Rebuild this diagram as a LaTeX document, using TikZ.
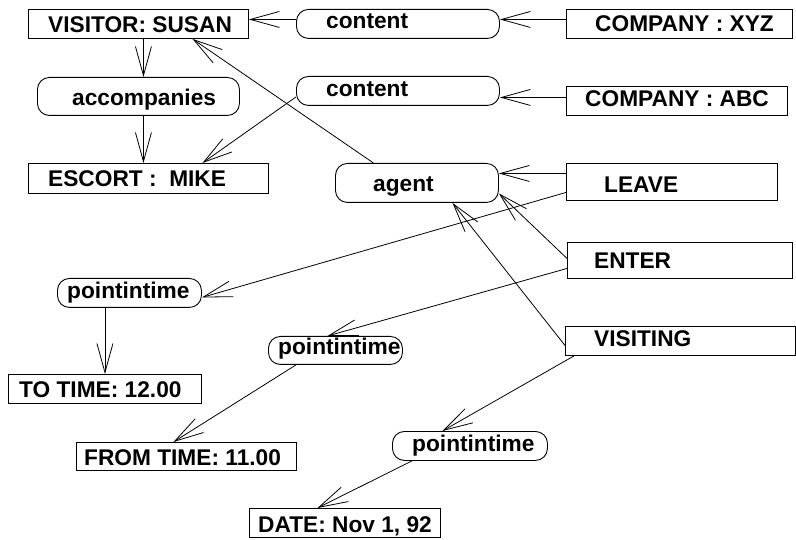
\documentclass[tikz,border=0pt]{standalone}
\usepackage{fontspec}
\setmainfont{Liberation Sans}
\usetikzlibrary{arrows.meta,calc}
\begin{document}
\begin{tikzpicture}[x=1pt,y=-1pt,
  bx/.style={draw, rectangle, anchor=north west, inner sep=0pt, line width=0.9pt},
  rb/.style={bx, rounded corners=12pt},
  txt/.style={anchor=base west, inner sep=0pt, font=\bfseries\fontsize{22.7}{27}\selectfont},
  arr/.style={line width=0.8pt, -{Straight Barb[length=29pt,width=16pt]}}]
\useasboundingbox (0,0) rectangle (796,540);
% boxes
\node[bx, minimum width=220pt, minimum height=29pt] (vis) at (28,9) {};
\node[rb, minimum width=203pt, minimum height=29pt] (c1) at (296,9) {};
\node[bx, minimum width=226pt, minimum height=29pt] (xyz) at (566,9) {};
\node[rb, minimum width=202pt, minimum height=38pt] (acc) at (37,77) {};
\node[rb, minimum width=203pt, minimum height=29pt] (c2) at (296,76) {};
\node[bx, minimum width=221pt, minimum height=29pt] (abc) at (566,86) {};
\node[bx, minimum width=240pt, minimum height=30pt] (esc) at (28,163) {};
\node[rb, minimum width=163pt, minimum height=39pt] (agent) at (335,163) {};
\node[bx, minimum width=211pt, minimum height=37pt] (leave) at (566,163) {};
\node[bx, minimum width=225pt, minimum height=36pt] (enter) at (567,242) {};
\node[bx, minimum width=230pt, minimum height=29pt] (visiting) at (565,326) {};
\node[rb, minimum width=144pt, minimum height=29pt] (p1) at (57,278) {};
\node[bx, minimum width=193pt, minimum height=29pt] (to) at (8,374) {};
\node[rb, minimum width=134pt, minimum height=28pt] (p2) at (268,336) {};
\node[bx, minimum width=220pt, minimum height=28pt] (from) at (76,442) {};
\node[rb, minimum width=155pt, minimum height=29pt] (p3) at (392,431) {};
\node[bx, minimum width=191pt, minimum height=29pt] (date) at (249,508) {};
% texts
\node[txt] (vist) at (48,33) {VISITOR: SUSAN};
\node[txt] (c1t) at (326,29) {content};
\node[txt] (xyzt) at (595,32) {COMPANY : XYZ};
\node[txt] (acct) at (72,106) {accompanies};
\node[txt] (c2t) at (326,97) {content};
\node[txt] (abct) at (585,107) {COMPANY : ABC};
\node[txt] (esct) at (48,187) {ESCORT :\ \ MIKE};
\node[txt] (agentt) at (373,192) {agent};
\node[txt] (leavet) at (604,193) {LEAVE};
\node[txt] (entert) at (594,269) {ENTER};
\node[txt] (visitingt) at (594,347) {VISITING};
\node[txt] (p1t) at (67,299) {pointintime};
\node[txt] (tot) at (19,397) {TO TIME: 12.00};
\node[txt] (p2t) at (278,355) {pointintime};
\node[txt] (fromt) at (84,465) {FROM TIME: 11.00};
\node[txt] (p3t) at (412,451) {pointintime};
\node[txt] (datet) at (258,532) {DATE: Nov 1, 92};
% connectors
\draw[arr] ($(xyz.west)+(0,-4.5)$) -- ($(c1.east)+(0,-4.5)$);
\draw[arr] ($(c1.west)+(0,-4.5)$) -- ($(vis.east)+(0,-4.5)$);
\draw[arr] ($(vis.south)+(5,0)$) -- ($(acc.north)+(5,0)$);
\draw[arr] ($(acc.south)+(5,0)$) -- ($(esc.north)+(-5,0)$);
\draw[arr] ($(c2.west)+(0,6)$) -- ($(esc.north)+(54,0)$);
\draw[arr] ($(agent.north)+(-43.5,0)$) -- ($(vis.south)+(54,0)$);
\draw[arr] ($(abc.west)+(0,-3.5)$) -- ($(c2.east)+(0,6.5)$);
\draw[arr] ($(leave.west)+(0,-8.5)$) -- ($(agent.east)+(0,-9.5)$);
\draw[arr] ($(leave.west)+(0,10.5)$) -- ($(p1.east)+(0,4.5)$);
\draw[arr] ($(enter.west)+(0,-2)$) -- ($(agent.east)+(0,10.5)$);
\draw[arr] ($(enter.west)+(0,8)$) -- ($(p2.north)+(-8,0)$);
\draw[arr] ($(visiting.west)+(0,4.5)$) -- ($(agent.south)+(35.5,0)$);
\draw[arr] ($(visiting.south west)+(9,0)$) -- ($(p3.north)+(-27.5,0)$);
\draw[arr] (to.north |- p1.south) -- (to.north);
\draw[arr] ($(p2.south west)+(28,0)$) -- ($(from.north)+(-13,0)$);
\draw[arr] ($(p3.south west)+(20,0)$) -- ($(date.north)+(-27.5,0)$);
\end{tikzpicture}
\end{document}
